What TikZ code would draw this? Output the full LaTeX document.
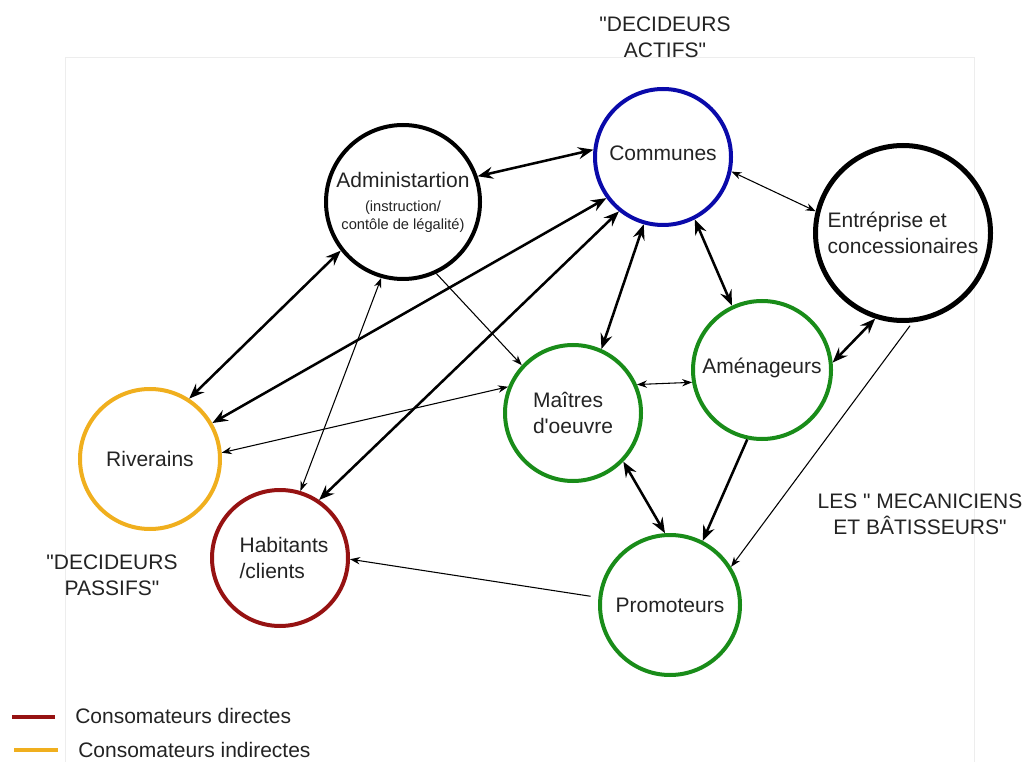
\documentclass[tikz,border=0pt]{standalone}
\usepackage{fontspec}
\setmainfont{Liberation Sans}[Ligatures=TeXOff]
\usetikzlibrary{arrows.meta}
\definecolor{cblue}{RGB}{10,10,170}
\definecolor{cgreen}{RGB}{25,140,25}
\definecolor{corange}{RGB}{240,175,30}
\definecolor{cred}{RGB}{150,18,18}
\definecolor{ctext}{RGB}{35,35,35}
\begin{document}
\begin{tikzpicture}[x=0.75pt,y=-0.75pt,
  actor/.style={circle,draw,line width=3pt,inner sep=0pt,text=ctext,
    font=\fontsize{15.75}{20}\selectfont,align=center},
  lab/.style={text=ctext,inner sep=0pt,font=\fontsize{15.75}{19.5}\selectfont,align=center},
  bigtip/.tip={Stealth[length=11.5pt,width=9pt,inset=4pt]},
  smalltip/.tip={Stealth[length=7.5pt,width=5.5pt,inset=2.4pt]},
  thickboth/.style={line width=1.9pt,bigtip-bigtip},
  thickone/.style={line width=1.9pt,-bigtip},
  thinboth/.style={line width=0.8pt,smalltip-smalltip},
  thinone/.style={line width=0.8pt,-smalltip}]
\useasboundingbox (0,0) rectangle (1027,762);
\draw[black!7,line width=0.75pt] (65,762) |- (974,58) -- (974,762);

% actors
\node[actor,draw=cblue,minimum size=102pt] (com) at (663,157) {\raisebox{5.5pt}{Communes}};
\node[actor,minimum size=115.5pt,font=\fontsize{11}{13.5}\selectfont] (adm) at (403,202)
  {{\fontsize{15.75}{20}\selectfont Administartion}\\[4.5pt](instruction/\\contôle de légalité)};
\node[actor,line width=3.75pt,minimum size=131.25pt,align=left] (ent) at (903,233)
  {Entréprise et\\concessionaires};
\node[actor,draw=cgreen,minimum size=102pt,align=left] (mai) at (573,413) {Maîtres\\d'oeuvre};
\node[actor,draw=cgreen,minimum size=103.5pt] (ame) at (762,370) {\raisebox{6pt}{Aménageurs}};
\node[actor,draw=corange,minimum size=105pt] (riv) at (150,459) {Riverains};
\node[actor,draw=cred,minimum size=102pt,align=left] (hab) at (280,558) {\hspace*{6pt}Habitants\\\hspace*{6pt}/clients};
\node[actor,draw=cgreen,minimum size=105pt] (pro) at (670,605) {Promoteurs};

% group labels
\node[lab] (actifs) at (665,37) {"DECIDEURS\\ACTIFS"};
\node[lab] (passifs) at (112,575) {"DECIDEURS\\PASSIFS"};
\node[lab] (meca) at (920,514) {LES " MECANICIENS\\ET BÂTISSEURS"};

% connectors
\draw[thickboth] (adm.19) -- (com.174);
\draw[thinboth] (com.-12) -- (ent.166);
\draw[thickboth] (adm.218) -- (riv.57);
\draw[thickboth] (com.216) -- (riv.30);
\draw[thickboth] (com.231) -- (hab.56);
\draw[thinboth] (adm.254) -- (hab.73);
\draw[thinone] (adm.295) -- (mai.137);
\draw[thinboth] (riv.5) -- (mai.158);
\draw[thickboth] (com.254) -- (mai.66);
\draw[thickboth] (com.297) -- (ame.115);
\draw[thinboth] (mai.24) -- (ame.190);
\draw[thickboth] (ame.6) -- (ent.252);
\draw[thickboth] (mai.316) -- (pro.94);
\draw[thickone] (ame.258) -- (pro.63);
\draw[thinone,shorten <=3pt] (ent.276) -- (pro.32);
\draw[thinone,shorten <=6pt] (pro.174) -- (hab.-1);

% legend
\coordinate (l1a) at (12,717);
\coordinate (l1b) at (55,717);
\coordinate (l2a) at (14,750);
\coordinate (l2b) at (58,750);
\draw[cred,line width=3pt] (l1a) -- (l1b);
\draw[corange,line width=3pt] (l2a) -- (l2b);
\node[lab,anchor=west] (leg1) at (75,716) {Consomateurs directes};
\node[lab,anchor=west] (leg2) at (78,750) {Consomateurs indirectes};
\end{tikzpicture}
\end{document}
